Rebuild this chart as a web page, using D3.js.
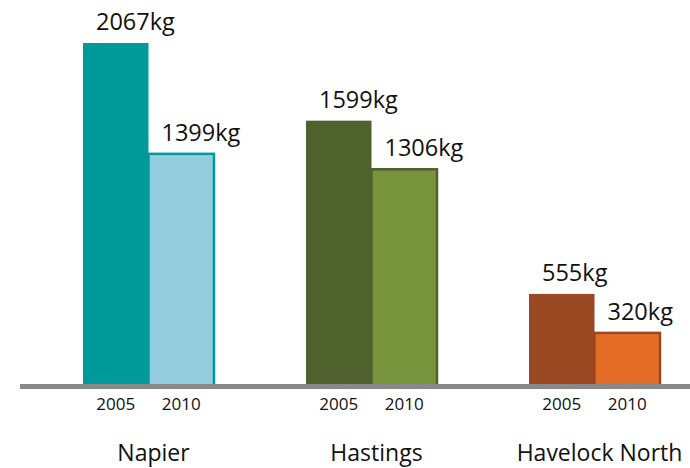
<!DOCTYPE html>
<html>
<head>
<meta charset="utf-8">
<script src="https://cdn.jsdelivr.net/npm/d3@7"></script>
<style>
  html, body { margin: 0; padding: 0; background: #fff; }
  text { font-family: "Open Sans", "DejaVu Sans", sans-serif; fill: #111; }
</style>
</head>
<body>
<svg id="chart" width="690" height="468"></svg>
<script>
const categories = ["Napier", "Hastings", "Havelock North"];
const years = ["2005", "2010"];
const values2005 = [2067, 1599, 555];
const values2010 = [1399, 1306, 320];
const colors2005 = ["#009a9a", "#4f612c", "#994822"];
const colors2010 = ["#93cddd", "#77933c", "#e36c27"];
const unit = "kg";

const svg = d3.select("#chart");

const x0 = d3.scaleBand().domain(categories).range([83, 660]).paddingInner(0.4126).paddingOuter(0);
const x1 = d3.scaleBand().domain(years).range([0, x0.bandwidth()]).padding(0);
const y = d3.scaleLinear().domain([0, 2067]).range([386, 43]);

const data = [];
categories.forEach((c, i) => {
  data.push({cat: c, year: "2005", value: values2005[i], fill: colors2005[i], stroke: colors2005[i]});
  data.push({cat: c, year: "2010", value: values2010[i], fill: colors2010[i], stroke: colors2005[i]});
});

const g = svg.append("g");
g.selectAll("rect.bar").data(data).enter().append("rect")
  .attr("class", "bar")
  .attr("x", d => x0(d.cat) + x1(d.year))
  .attr("y", d => y(d.value))
  .attr("width", x1.bandwidth())
  .attr("height", d => y(0) - y(d.value))
  .attr("fill", d => d.fill)
  .attr("stroke", d => d.year === "2010" ? d.stroke : "none")
  .attr("stroke-width", 2.5);

// baseline
svg.append("line")
  .attr("x1", 20).attr("x2", 690)
  .attr("y1", 386.5).attr("y2", 386.5)
  .attr("stroke", "#898989").attr("stroke-width", 5);

// value labels
g.selectAll("text.val").data(data).enter().append("text")
  .attr("class", "val")
  .attr("x", d => x0(d.cat) + x1(d.year) + 13)
  .attr("y", d => y(d.value) - 13)
  .attr("font-size", 23.5)
  .text(d => d.value + unit);

// year labels
g.selectAll("text.yr").data(data).enter().append("text")
  .attr("class", "yr")
  .attr("x", d => x0(d.cat) + x1(d.year) + x1.bandwidth() / 2)
  .attr("y", 410)
  .attr("text-anchor", "middle")
  .attr("font-size", 17)
  .text(d => d.year);

// category labels
g.selectAll("text.cat").data(categories).enter().append("text")
  .attr("class", "cat")
  .attr("x", d => x0(d) + x0.bandwidth() / 2 + 5)
  .attr("y", 461)
  .attr("text-anchor", "middle")
  .attr("font-size", 23)
  .text(d => d);
</script>
</body>
</html>
